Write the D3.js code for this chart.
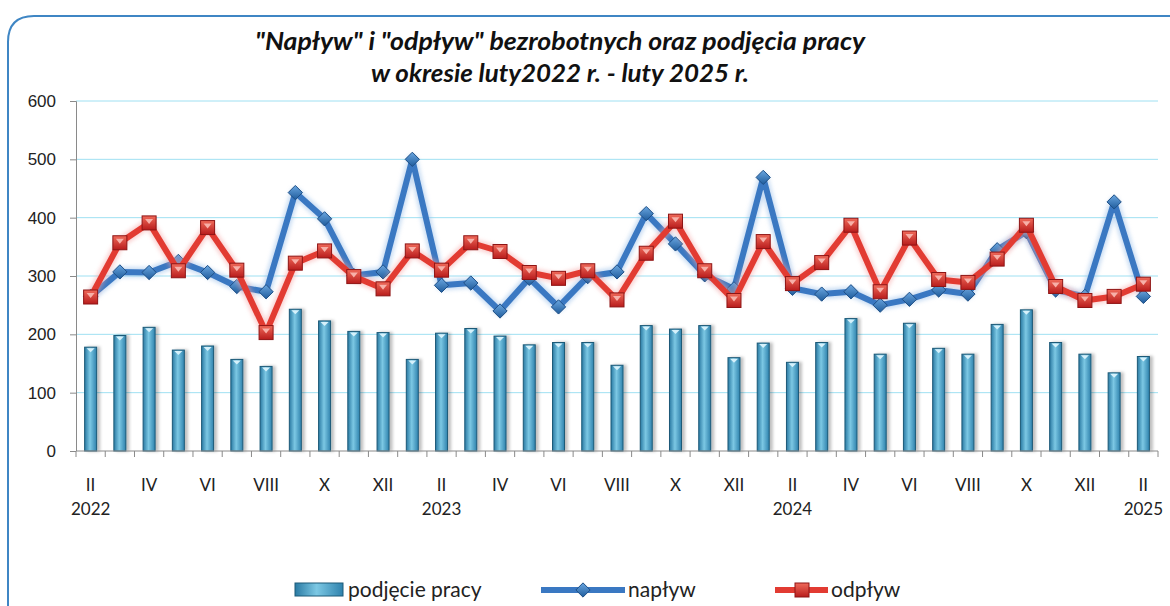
<!DOCTYPE html>
<html>
<head>
<meta charset="utf-8">
<script src="https://cdn.jsdelivr.net/npm/d3@7"></script>
<style>
  body { margin: 0; background: #fff; }
  svg { display: block; font-family: Lato, "Open Sans", sans-serif; }
</style>
</head>
<body>
<svg id="chart"></svg>
<script>
// months feb 2022 .. feb 2025
const months = ["II","III","IV","V","VI","VII","VIII","IX","X","XI","XII","I",
  "II","III","IV","V","VI","VII","VIII","IX","X","XI","XII","I",
  "II","III","IV","V","VI","VII","VIII","IX","X","XI","XII","I","II"];
const years = ["2022","","","","","","","","","","","",
  "2023","","","","","","","","","","","",
  "2024","","","","","","","","","","","",
  "2025"];
const podjecie = [178,198,212,173,180,157,145,243,223,205,203,157,
  202,210,197,182,186,186,147,215,209,215,160,185,
  152,186,227,166,219,176,166,217,242,186,166,134,162];
const naplyw = [265,307,306,325,306,282,273,443,398,301,307,500,
  284,288,240,296,247,299,307,407,355,302,278,469,
  279,269,273,250,260,276,269,345,376,276,265,427,265];
const odplyw = [264,357,391,309,383,310,203,322,343,299,278,343,
  310,357,342,306,296,309,259,339,394,309,258,359,
  287,323,387,273,365,294,289,329,387,282,258,265,286];
const yTicks = [0,100,200,300,400,500,600];

const W = 1170, H = 606;
const margin = {top: 101, right: 12, bottom: 155, left: 76};
const width = 1158 - margin.left, height = 451 - margin.top;

const svg = d3.select("#chart").attr("width", W).attr("height", H);
const defs = svg.append("defs");

const barGrad = defs.append("linearGradient").attr("id", "barGrad");
barGrad.append("stop").attr("offset", "0%").attr("stop-color", "#2a7aa3");
barGrad.append("stop").attr("offset", "45%").attr("stop-color", "#7cc8e4");
barGrad.append("stop").attr("offset", "100%").attr("stop-color", "#2f82ad");

const sqGrad = defs.append("linearGradient").attr("id", "sqGrad").attr("x1", 0).attr("x2", 0).attr("y1", 0).attr("y2", 1);
sqGrad.append("stop").attr("offset", "0%").attr("stop-color", "#f06a5a");
sqGrad.append("stop").attr("offset", "100%").attr("stop-color", "#b81c1c");

const dmGrad = defs.append("linearGradient").attr("id", "dmGrad").attr("x1", 0).attr("x2", 0).attr("y1", 0).attr("y2", 1);
dmGrad.append("stop").attr("offset", "0%").attr("stop-color", "#6aa6e0");
dmGrad.append("stop").attr("offset", "100%").attr("stop-color", "#1f5c9c");

const glow = defs.append("filter").attr("id", "glow").attr("x", "-10%").attr("y", "-10%").attr("width", "120%").attr("height", "120%");
glow.append("feGaussianBlur").attr("stdDeviation", 2);

const shadow = defs.append("filter").attr("id", "shadow").attr("x", "-50%").attr("width", "200%");
shadow.append("feDropShadow").attr("dx", 3).attr("dy", 0).attr("stdDeviation", 1.5).attr("flood-color", "#000").attr("flood-opacity", 0.25);

// frame
svg.append("path")
  .attr("d", "M8,606 L8,42 Q8,16 34,16 L1175,16")
  .attr("fill", "none").attr("stroke", "#3f86c4").attr("stroke-width", 2);

// title
const title = svg.append("text")
  .attr("text-anchor", "middle")
  .style("font-weight", "bold").style("font-style", "italic")
  .style("font-size", "25px").attr("fill", "#111");
title.append("tspan").attr("x", 560).attr("y", 50).attr("textLength", 610).attr("lengthAdjust", "spacingAndGlyphs")
  .text('"Napływ" i "odpływ" bezrobotnych oraz podjęcia pracy');
title.append("tspan").attr("x", 560).attr("y", 82).attr("textLength", 378).attr("lengthAdjust", "spacingAndGlyphs")
  .text("w okresie luty2022 r. - luty 2025 r.");

const g = svg.append("g").attr("transform", `translate(${margin.left},${margin.top})`);

const x = d3.scaleBand().domain(d3.range(months.length)).range([0, width]);
const y = d3.scaleLinear().domain([0, 600]).range([height, 0]);
const cx = i => x(i) + x.bandwidth() / 2;

// gridlines
g.append("g").selectAll("line").data(yTicks.filter(d => d > 0)).join("line")
  .attr("x1", 0).attr("x2", width)
  .attr("y1", d => y(d)).attr("y2", d => y(d))
  .attr("stroke", "#9fe0f2").attr("stroke-width", 1);

// bars
g.append("g").selectAll("rect").data(podjecie).join("rect")
  .attr("x", (d, i) => cx(i) - 6)
  .attr("y", d => y(d))
  .attr("width", 12)
  .attr("height", d => height - y(d))
  .attr("fill", "url(#barGrad)")
  .attr("stroke", "#1d5a78").attr("stroke-width", 1)
  .attr("filter", "url(#shadow)");
g.append("g").selectAll("path").data(podjecie).join("path")
  .attr("d", (d, i) => `M${cx(i) - 4},${y(d) + 1} L${cx(i) + 4},${y(d) + 1} L${cx(i)},${y(d) + 5} Z`)
  .attr("fill", "#d6f1fb");

// axes
const yAxis = g.append("g").call(d3.axisLeft(y).tickValues(yTicks).tickSize(6).tickPadding(14));
yAxis.select(".domain").attr("stroke", "#8a8a8a").attr("d", `M-6,0.5H0.5V${height}`);
yAxis.selectAll(".tick line").attr("stroke", "#8a8a8a");
yAxis.selectAll("text").style("font-size", "17px").attr("fill", "#222");

const xAxis = g.append("g").attr("transform", `translate(0,${height})`);
xAxis.append("line").attr("x1", 0).attr("x2", width).attr("stroke", "#8a8a8a");
xAxis.selectAll(".tk").data(d3.range(months.length + 1)).join("line")
  .attr("x1", i => i < months.length ? x(i) : width).attr("x2", i => i < months.length ? x(i) : width)
  .attr("y1", 0).attr("y2", 6).attr("stroke", "#8a8a8a");
xAxis.selectAll(".ml").data(months).join("text")
  .attr("x", (d, i) => cx(i)).attr("y", 40)
  .attr("text-anchor", "middle").style("font-size", "17px").attr("fill", "#222")
  .text((d, i) => i % 2 === 0 ? d : "");
xAxis.selectAll(".yl").data(years).join("text")
  .attr("x", (d, i) => cx(i)).attr("y", 64)
  .attr("text-anchor", "middle").style("font-size", "17px").attr("fill", "#222")
  .text(d => d);

// lines
const line = d3.line().x((d, i) => cx(i)).y(d => y(d));

function series(data, color, glowColor) {
  g.append("path").datum(data).attr("d", line)
    .attr("fill", "none").attr("stroke", glowColor).attr("stroke-width", 10)
    .attr("stroke-linejoin", "round").attr("opacity", 0.5).attr("filter", "url(#glow)");
  g.append("path").datum(data).attr("d", line)
    .attr("fill", "none").attr("stroke", color).attr("stroke-width", 6)
    .attr("stroke-linejoin", "round");
}

series(naplyw, "#3a78c2", "#8fb8e6");
g.append("g").selectAll("path").data(naplyw).join("path")
  .attr("transform", (d, i) => `translate(${cx(i)},${y(d)})`)
  .attr("d", d3.symbol(d3.symbolDiamond2, 130))
  .attr("fill", "url(#dmGrad)").attr("stroke", "#1e4f86").attr("stroke-width", 1);

series(odplyw, "#e23b32", "#f5a0a0");
g.append("g").selectAll("rect").data(odplyw).join("rect")
  .attr("x", (d, i) => cx(i) - 7).attr("y", d => y(d) - 7)
  .attr("width", 14).attr("height", 14)
  .attr("fill", "url(#sqGrad)").attr("stroke", "#8e1414").attr("stroke-width", 1);
g.append("g").selectAll("path").data(odplyw).join("path")
  .attr("d", (d, i) => `M${cx(i) - 4},${y(d) - 4} L${cx(i) + 4},${y(d) - 4} L${cx(i)},${y(d) + 1} Z`)
  .attr("fill", "#f7b0a8");

// legend
const leg = svg.append("g").style("font-size", "21px").attr("fill", "#222");
leg.append("rect").attr("x", 295).attr("y", 583).attr("width", 48).attr("height", 13)
  .attr("fill", "url(#barGrad)").attr("stroke", "#1d5a78");
leg.append("text").attr("x", 348).attr("y", 597).text("podjęcie pracy");

leg.append("line").attr("x1", 541).attr("x2", 625).attr("y1", 590).attr("y2", 590)
  .attr("stroke", "#3a78c2").attr("stroke-width", 6);
leg.append("path").attr("transform", "translate(583,590)")
  .attr("d", d3.symbol(d3.symbolDiamond2, 130))
  .attr("fill", "url(#dmGrad)").attr("stroke", "#1e4f86");
leg.append("text").attr("x", 628).attr("y", 597).text("napływ");

leg.append("line").attr("x1", 775).attr("x2", 828).attr("y1", 590).attr("y2", 590)
  .attr("stroke", "#e23b32").attr("stroke-width", 6);
leg.append("rect").attr("x", 795).attr("y", 583).attr("width", 14).attr("height", 14)
  .attr("fill", "url(#sqGrad)").attr("stroke", "#8e1414");
leg.append("text").attr("x", 831).attr("y", 597).text("odpływ");
</script>
</body>
</html>
